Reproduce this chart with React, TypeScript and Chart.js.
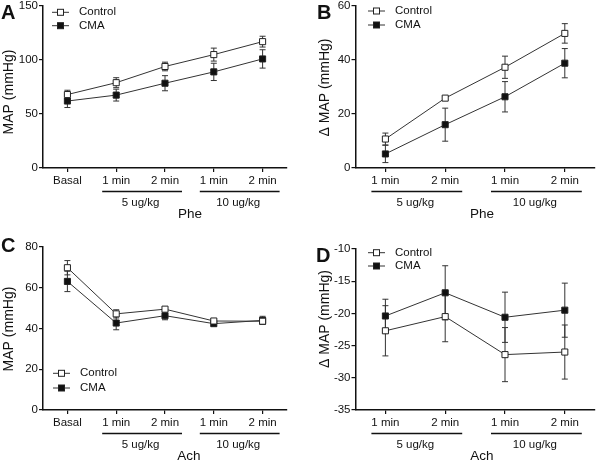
import React, { useEffect, useRef } from "react";
import { Chart, registerables } from "chart.js";

Chart.register(...registerables);

// ---------- data ----------
const phaseLabels = ["Basal", "1 min", "2 min", "1 min", "2 min"];
const deltaLabels = ["1 min", "2 min", "1 min", "2 min"];
const seriesNames = ["Control", "CMA"];
const doseLabels = ["5 ug/kg", "10 ug/kg"];

// A: Phe, MAP
const pheMapControl = [68, 79, 94, 105, 117];
const pheMapControlErr = [4, 4.6, 4, 6, 5];
const pheMapCma = [62, 67.5, 78.5, 89, 101];
const pheMapCmaErr = [6, 5.5, 7, 8, 8.5];

// B: Phe, delta MAP
const pheDeltaControl = [10.7, 25.8, 37.2, 49.7];
const pheDeltaControlErr = [2.2, 0.6, 4.1, 3.6];
const pheDeltaCma = [5.2, 16, 26.3, 38.7];
const pheDeltaCmaErr = [3.2, 6.1, 5.6, 5.4];

// C: Ach, MAP
const achMapControl = [69.7, 47.1, 49.4, 43.6, 43.5];
const achMapControlErr = [3.5, 2, 1, 1, 1.5];
const achMapCma = [63, 42.6, 46.2, 42.3, 43.9];
const achMapCmaErr = [5, 3.3, 2, 1, 2];

// D: Ach, delta MAP
const achDeltaControl = [-22.7, -20.5, -26.4, -26];
const achDeltaControlErr = [3.9, 3.9, 4.2, 4.2];
const achDeltaCma = [-20.4, -16.8, -20.6, -19.5];
const achDeltaCmaErr = [2.6, 4.2, 3.9, 4.2];

// ---------- styling ----------
const FONT = "'Liberation Sans', Arial, Helvetica, sans-serif";
const INK = "#111";
const LINE = "#333";

type Spec = {
  letter: string;
  letterPos: [number, number];
  labels: string[];
  control: number[];
  controlErr: number[];
  cma: number[];
  cmaErr: number[];
  yMin: number;
  yMax: number;
  yStep: number;
  padTop: number;
  padRight: number;
  yAxisWidth: number;
  xAxisHeight: number;
  yTitle: string;
  yTitlePos: [number, number];
  xTitle: string;
  xTitleX: number;
  groups: [number, number][];
  legend: { x: number; y: number; gap: number };
};

function makeExtras(spec: Spec) {
  return {
    id: "extras" + spec.letter,
    beforeDatasetsDraw(chart: any) {
      const ctx = chart.ctx;
      const xs = chart.scales.x;
      const ys = chart.scales.y;
      const errs = [spec.controlErr, spec.cmaErr];
      const vals = [spec.control, spec.cma];
      ctx.save();
      ctx.strokeStyle = LINE;
      ctx.lineWidth = 1;
      vals.forEach((arr, di) => {
        arr.forEach((v, i) => {
          const x = xs.getPixelForValue(i);
          const yT = ys.getPixelForValue(v + errs[di][i]);
          const yB = ys.getPixelForValue(v - errs[di][i]);
          ctx.beginPath();
          ctx.moveTo(x, yT);
          ctx.lineTo(x, yB);
          ctx.moveTo(x - 3, yT);
          ctx.lineTo(x + 3, yT);
          ctx.moveTo(x - 3, yB);
          ctx.lineTo(x + 3, yB);
          ctx.stroke();
        });
      });
      ctx.restore();
    },
    afterDraw(chart: any) {
      const ctx = chart.ctx;
      const xs = chart.scales.x;
      const area = chart.chartArea;
      ctx.save();
      // group underlines and labels
      ctx.strokeStyle = INK;
      ctx.lineWidth = 1.3;
      ctx.fillStyle = INK;
      ctx.font = `11.5px ${FONT}`;
      ctx.textAlign = "center";
      ctx.textBaseline = "middle";
      spec.groups.forEach((g, gi) => {
        const x1 = xs.getPixelForValue(g[0]);
        const x2 = xs.getPixelForValue(g[1]);
        const yl = area.bottom + 23.5;
        ctx.beginPath();
        ctx.moveTo(x1 - 14, yl);
        ctx.lineTo(x2 + 17, yl);
        ctx.stroke();
        ctx.fillText(doseLabels[gi], (x1 + x2) / 2, area.bottom + 34.5);
      });
      // x title
      ctx.font = `13.5px ${FONT}`;
      ctx.fillText(spec.xTitle, spec.xTitleX, area.bottom + 46);
      // y title
      ctx.font = `14px ${FONT}`;
      ctx.save();
      ctx.translate(spec.yTitlePos[0], spec.yTitlePos[1]);
      ctx.rotate(-Math.PI / 2);
      ctx.fillText(spec.yTitle, 0, 0);
      ctx.restore();
      // panel letter
      ctx.font = `bold 20px ${FONT}`;
      ctx.textAlign = "left";
      ctx.textBaseline = "alphabetic";
      ctx.fillText(spec.letter, spec.letterPos[0], spec.letterPos[1]);
      // legend
      ctx.font = `11.5px ${FONT}`;
      ctx.textBaseline = "middle";
      const fills = ["#ffffff", "#111111"];
      seriesNames.forEach((name, i) => {
        const y = spec.legend.y + i * spec.legend.gap;
        const lx = spec.legend.x;
        ctx.strokeStyle = LINE;
        ctx.lineWidth = 1;
        ctx.beginPath();
        ctx.moveTo(lx, y);
        ctx.lineTo(lx + 17, y);
        ctx.stroke();
        ctx.fillStyle = fills[i];
        ctx.fillRect(lx + 8.5 - 3, y - 3, 6, 6);
        ctx.strokeStyle = "#222";
        ctx.strokeRect(lx + 8.5 - 3, y - 3, 6, 6);
        ctx.fillStyle = INK;
        ctx.fillText(name, lx + 27, y);
      });
      ctx.restore();
    },
  };
}

function makeConfig(spec: Spec): any {
  const tickFont = { family: FONT, size: 11.5 };
  const common = {
    borderColor: LINE,
    borderWidth: 1,
    pointStyle: "rect",
    pointRadius: 4.3,
    pointBorderColor: "#222",
    pointBorderWidth: 1,
    tension: 0,
  };
  return {
    type: "line",
    data: {
      labels: spec.labels,
      datasets: [
        { ...common, label: seriesNames[0], data: spec.control, pointBackgroundColor: "#ffffff" },
        { ...common, label: seriesNames[1], data: spec.cma, pointBackgroundColor: "#111111" },
      ],
    },
    options: {
      animation: false,
      responsive: false,
      devicePixelRatio: 1,
      layout: { padding: { top: spec.padTop, right: spec.padRight, left: 0, bottom: 0 } },
      plugins: { legend: { display: false }, tooltip: { enabled: false } },
      scales: {
        x: {
          type: "category",
          offset: true,
          grid: {
            display: true,
            drawOnChartArea: false,
            offset: false,
            drawTicks: true,
            tickLength: 4,
            color: INK,
            lineWidth: 1.2,
          },
          border: { display: true, color: INK, width: 1.5 },
          ticks: { font: tickFont, color: INK, padding: 2, maxRotation: 0, autoSkip: false },
          afterFit: (s: any) => {
            s.height = spec.xAxisHeight;
            s.paddingLeft = 0;
            s.paddingRight = 0;
          },
        },
        y: {
          min: spec.yMin,
          max: spec.yMax,
          grid: {
            display: true,
            drawOnChartArea: false,
            drawTicks: true,
            tickLength: 4,
            color: INK,
            lineWidth: 1.2,
          },
          border: { display: true, color: INK, width: 1.5 },
          ticks: { stepSize: spec.yStep, font: tickFont, color: INK, padding: 1 },
          afterFit: (s: any) => {
            s.width = spec.yAxisWidth;
            s.paddingTop = 0;
            s.paddingBottom = 0;
          },
        },
      },
    },
    plugins: [makeExtras(spec)],
  };
}

const specs: { spec: Spec; left: number; top: number }[] = [
  {
    left: 0,
    top: 0,
    spec: {
      letter: "A",
      letterPos: [1, 18.5],
      labels: phaseLabels,
      control: pheMapControl,
      controlErr: pheMapControlErr,
      cma: pheMapCma,
      cmaErr: pheMapCmaErr,
      yMin: 0,
      yMax: 150,
      yStep: 50,
      padTop: 6,
      padRight: 13,
      yAxisWidth: 43,
      xAxisHeight: 63,
      yTitle: "MAP (mmHg)",
      yTitlePos: [9, 92],
      xTitle: "Phe",
      xTitleX: 190,
      groups: [
        [1, 2],
        [3, 4],
      ],
      legend: { x: 52, y: 12.3, gap: 13.4 },
    },
  },
  {
    left: 300,
    top: 0,
    spec: {
      letter: "B",
      letterPos: [17, 18.5],
      labels: deltaLabels,
      control: pheDeltaControl,
      controlErr: pheDeltaControlErr,
      cma: pheDeltaCma,
      cmaErr: pheDeltaCmaErr,
      yMin: 0,
      yMax: 60,
      yStep: 20,
      padTop: 5.5,
      padRight: 0,
      yAxisWidth: 55.5,
      xAxisHeight: 63,
      yTitle: "\u0394 MAP (mmHg)",
      yTitlePos: [25, 87.5],
      xTitle: "Phe",
      xTitleX: 182,
      groups: [
        [0, 1],
        [2, 3],
      ],
      legend: { x: 68, y: 11, gap: 14 },
    },
  },
  {
    left: 0,
    top: 231,
    spec: {
      letter: "C",
      letterPos: [1, 20.7],
      labels: phaseLabels,
      control: achMapControl,
      controlErr: achMapControlErr,
      cma: achMapCma,
      cmaErr: achMapCmaErr,
      yMin: 0,
      yMax: 80,
      yStep: 20,
      padTop: 15.7,
      padRight: 13,
      yAxisWidth: 43,
      xAxisHeight: 52,
      yTitle: "MAP (mmHg)",
      yTitlePos: [9, 98],
      xTitle: "Ach",
      xTitleX: 189,
      groups: [
        [1, 2],
        [3, 4],
      ],
      legend: { x: 53, y: 142.3, gap: 14.7 },
    },
  },
  {
    left: 300,
    top: 231,
    spec: {
      letter: "D",
      letterPos: [16, 30.7],
      labels: deltaLabels,
      control: achDeltaControl,
      controlErr: achDeltaControlErr,
      cma: achDeltaCma,
      cmaErr: achDeltaCmaErr,
      yMin: -35,
      yMax: -10,
      yStep: 5,
      padTop: 18,
      padRight: 0,
      yAxisWidth: 55.5,
      xAxisHeight: 52,
      yTitle: "\u0394 MAP (mmHg)",
      yTitlePos: [25, 88],
      xTitle: "Ach",
      xTitleX: 182,
      groups: [
        [0, 1],
        [2, 3],
      ],
      legend: { x: 68, y: 21.7, gap: 13.3 },
    },
  },
];

function Panel({ spec, left, top }: { spec: Spec; left: number; top: number }) {
  const ref = useRef<HTMLCanvasElement>(null);
  useEffect(() => {
    if (!ref.current) return;
    const chart = new Chart(ref.current, makeConfig(spec));
    return () => chart.destroy();
  }, [spec]);
  return (
    <canvas
      ref={ref}
      width={300}
      height={231}
      style={{ position: "absolute", left, top, width: 300, height: 231 }}
    />
  );
}

export default function App() {
  return (
    <div
      style={{
        position: "absolute",
        left: 0,
        top: 0,
        width: 600,
        height: 462,
        background: "#ffffff",
        overflow: "hidden",
      }}
    >
      {specs.map((p) => (
        <Panel key={p.spec.letter} spec={p.spec} left={p.left} top={p.top} />
      ))}
    </div>
  );
}
